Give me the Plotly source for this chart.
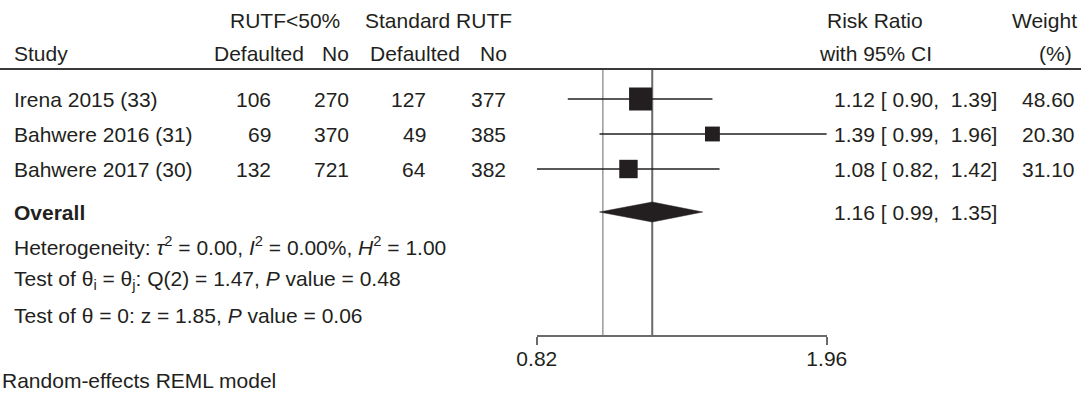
import math
import plotly.graph_objects as go

# ---------------- data ----------------
studies = ["Irena 2015 (33)", "Bahwere 2016 (31)", "Bahwere 2017 (30)"]
trt_defaulted = [106, 69, 132]
trt_no = [270, 370, 721]
ctl_defaulted = [127, 49, 64]
ctl_no = [377, 385, 382]
rr = [1.12, 1.39, 1.08]
rr_lo = [0.90, 0.99, 0.82]
rr_hi = [1.39, 1.96, 1.42]
weights = [48.60, 20.30, 31.10]

overall_rr = 1.16
overall_lo = 0.99
overall_hi = 1.35
null_value = 1.0

axis_ticks = [0.82, 1.96]
tick_labels = ["0.82", "1.96"]

group_headers = ["RUTF<50%", "Standard RUTF"]
col_headers = ["Defaulted", "No", "Defaulted", "No"]
het_text = ("Heterogeneity: <i>\u03c4</i><sup>2</sup> = 0.00, <i>I</i><sup>2</sup> = 0.00%, "
            "<i>H</i><sup>2</sup> = 1.00")
q_text = "Test of \u03b8<sub>i</sub> = \u03b8<sub>j</sub>: Q(2) = 1.47, <i>P</i> value = 0.48"
z_text = "Test of \u03b8 = 0: z = 1.85, <i>P</i> value = 0.06"
footer_text = "Random-effects REML model"

# ---------------- layout geometry (pixels) ----------------
W, H = 1081, 402
ROW0, ROWH = 99, 35          # first study row centre, row spacing (px)
FONT = "Liberation Sans, Arial, sans-serif"
FS = 21
TXT = "#231f20"

def row(p):
    """pixel y -> row coordinate"""
    return (p - ROW0) / ROWH

def px(x):
    return x / W

y_study = list(range(len(studies)))
y_overall = row(212)
y_rule = row(69)
y_axis = row(336)

ax_left, ax_right = 536.8, 826.8

fig = go.Figure()

# reference lines (null and overall)
fig.add_trace(go.Scatter(x=[null_value, null_value], y=[y_rule, y_axis], mode="lines",
                         line=dict(color="#9a9a9a", width=1.5), hoverinfo="skip", showlegend=False))
fig.add_trace(go.Scatter(x=[overall_rr, overall_rr], y=[y_rule, y_axis], mode="lines",
                         line=dict(color="#6a6a6a", width=2), hoverinfo="skip", showlegend=False))

# CI lines
for i in range(len(studies)):
    fig.add_trace(go.Scatter(x=[rr_lo[i], rr_hi[i]], y=[y_study[i], y_study[i]], mode="lines",
                             line=dict(color="#231f20", width=1.6), hoverinfo="skip",
                             showlegend=False, cliponaxis=False))

# squares sized by weight (area proportional to weight)
sizes = [23 * math.sqrt(w / max(weights)) for w in weights]
fig.add_trace(go.Scatter(x=rr, y=y_study, mode="markers", opacity=1,
                         marker=dict(symbol="square", size=sizes, color="#231f20", opacity=1,
                                     line=dict(width=0)),
                         hoverinfo="skip", showlegend=False, cliponaxis=False))

# diamond
dh = 10 / ROWH
fig.add_trace(go.Scatter(x=[overall_lo, overall_rr, overall_hi, overall_rr, overall_lo],
                         y=[y_overall, y_overall - dh, y_overall, y_overall + dh, y_overall],
                         mode="lines", fill="toself", fillcolor="#231f20",
                         line=dict(color="#231f20", width=0.5), hoverinfo="skip", showlegend=False))

ann = []
def text(x, y, s, anchor="left", size=FS, color=TXT):
    ann.append(dict(x=px(x), y=y, xref="paper", yref="y", text=s, showarrow=False,
                    xanchor=anchor, yanchor="middle", font=dict(family=FONT, size=size, color=color)))

# headers
text(285, row(20), group_headers[0], "center")
text(438, row(20), group_headers[1], "center")
text(12, row(53), "Study", "left")
for cx, h in zip([259, 335, 415, 493], col_headers):
    text(cx, row(53), h, "center")
text(875, row(20), "Risk Ratio", "center")
text(875, row(53), "with 95% CI", "center")
text(1079, row(20), "Weight", "right")
text(1055, row(53), "(%)", "center")

# study rows
nb = "\u00a0"
for i, s in enumerate(studies):
    y = y_study[i]
    text(12, y, s, "left")
    text(273, y, str(trt_defaulted[i]), "right")
    text(351, y, str(trt_no[i]), "right")
    text(428, y, str(ctl_defaulted[i]), "right")
    text(508, y, str(ctl_no[i]), "right")
    ci = f"{rr[i]:.2f} [{rr_lo[i]:5.2f}, {rr_hi[i]:5.2f}]".replace(" ", nb)
    text(832, y, ci, "left")
    text(1077, y, f"{weights[i]:.2f}", "right")

# overall row
text(12, y_overall, "<b>Overall</b>", "left")
ci = f"{overall_rr:.2f} [{overall_lo:5.2f}, {overall_hi:5.2f}]".replace(" ", nb)
text(832, y_overall, ci, "left")
text(12, row(246), het_text, "left")
text(12, row(280), q_text, "left")
text(12, row(315), z_text, "left")
text(0, row(380), footer_text, "left")

fig.update_layout(
    width=W, height=H, margin=dict(l=0, r=0, t=0, b=0, pad=0, autoexpand=False),
    paper_bgcolor="white", plot_bgcolor="white",
    annotations=ann,
    shapes=[dict(type="line", xref="paper", yref="y", x0=0, x1=1, y0=y_rule, y1=y_rule,
                 line=dict(color="#3a3a3a", width=2))],
    xaxis=dict(type="log", range=[math.log10(axis_ticks[0]), math.log10(axis_ticks[-1])],
               domain=[ax_left / W, ax_right / W], anchor="free", position=1 - 336 / H,
               showline=True, linecolor="#6a6a6a", linewidth=1.5, automargin=False,
               tickvals=axis_ticks, ticktext=tick_labels, ticks="outside", ticklen=8,
               tickwidth=1.5, tickcolor="#6a6a6a", showgrid=False, zeroline=False,
               ticklabelstandoff=-4,
               tickfont=dict(family=FONT, size=FS, color=TXT)),
    yaxis=dict(range=[row(H), row(0)], domain=[0, 1], visible=False, showgrid=False,
               zeroline=False, automargin=False),
)

fig.write_html("out.html", config={"displayModeBar": False},
               post_script="document.body.style.margin='0';")
